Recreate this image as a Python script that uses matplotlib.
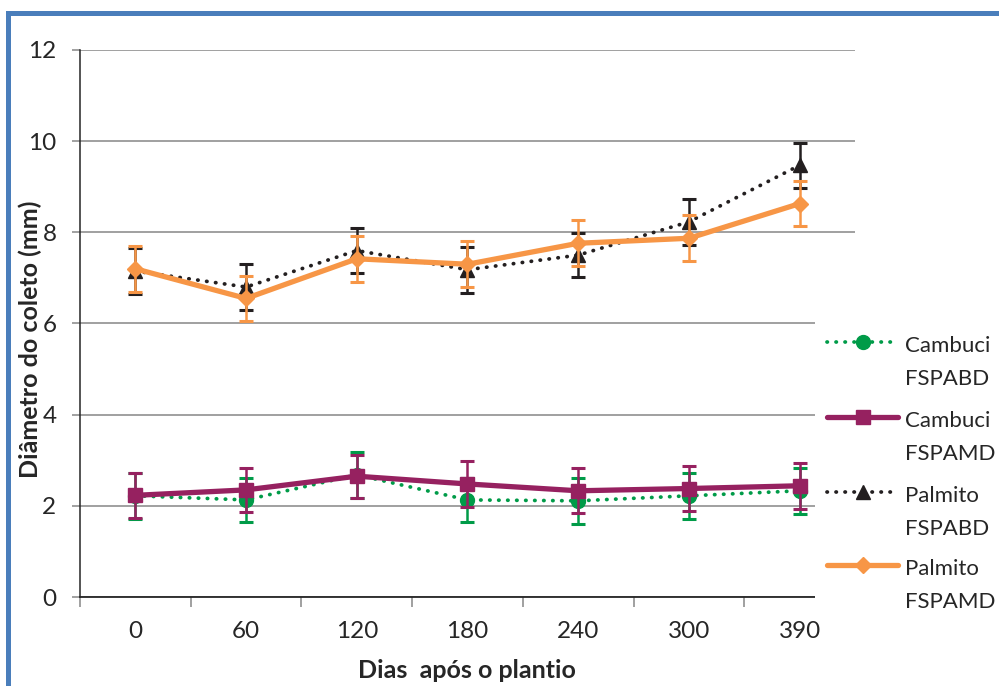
import matplotlib
matplotlib.use("Agg")
import matplotlib.pyplot as plt
from matplotlib.patches import Rectangle
from matplotlib.lines import Line2D
import numpy as np

plt.rcParams['font.family'] = ['Lato', 'DejaVu Sans']

days = ['0', '60', '120', '180', '240', '300', '390']

cambuci_abd = [2.22, 2.13, 2.68, 2.13, 2.11, 2.22, 2.33]
cambuci_abd_err = [0.50, 0.49, 0.50, 0.49, 0.50, 0.50, 0.50]
cambuci_amd = [2.23, 2.35, 2.65, 2.48, 2.33, 2.38, 2.44]
cambuci_amd_err = [0.50, 0.49, 0.47, 0.50, 0.49, 0.49, 0.50]
palmito_abd = [7.15, 6.80, 7.60, 7.18, 7.50, 8.23, 9.47]
palmito_abd_err = [0.50, 0.50, 0.50, 0.50, 0.49, 0.50, 0.50]
palmito_amd = [7.20, 6.55, 7.42, 7.30, 7.76, 7.87, 8.63]
palmito_amd_err = [0.50, 0.50, 0.50, 0.50, 0.50, 0.50, 0.49]

labels = ['Cambuci\nFSPABD', 'Cambuci\nFSPAMD', 'Palmito\nFSPABD', 'Palmito\nFSPAMD']

GREEN = '#009B48'
PURPLE = '#962160'
BLACK = '#231F20'
ORANGE = '#F79646'
GRID = '#868686'
TXT = '#262626'

W, H = 999, 686
fig = plt.figure(figsize=(W/100, H/100), dpi=100)
ax = fig.add_axes([80/W, 1-597/H, (855-80)/W, (597-50)/H])

x = np.arange(len(days))
dot = (0, (0.1, 2.3))

series = [
    (cambuci_abd, cambuci_abd_err, GREEN, dot, 2.7, 'o', 10),
    (cambuci_amd, cambuci_amd_err, PURPLE, '-', 3.8, 's', 10),
    (palmito_abd, palmito_abd_err, BLACK, dot, 2.7, '^', 10),
    (palmito_amd, palmito_amd_err, ORANGE, '-', 3.8, 'D', 8.5),
]

for i, (vals, errs, col, ls, lw, mk, ms) in enumerate(series):
    z = 3 + i
    ax.errorbar(x, vals, yerr=errs, fmt='none', ecolor=col, elinewidth=1.8,
                capsize=5, capthick=2.2, zorder=z)
    ax.plot(x, vals, color=col, linestyle=ls, linewidth=lw,
            dash_capstyle='round', solid_capstyle='butt',
            marker=mk, markersize=ms, markerfacecolor=col,
            markeredgecolor=col, zorder=z + 0.5)

ax.set_xlim(-0.5, len(days) - 0.5)
ax.set_ylim(0, 12)
ax.set_yticks([0, 2, 4, 6, 8, 10, 12])
ax.yaxis.grid(True, color=GRID, linewidth=1.1)
ax.set_axisbelow(True)

ax.set_xticks(x)
ax.set_xticklabels(days)
ax.set_xticks(np.arange(-0.5, len(days) - 0.5, 1.0), minor=True)
ax.tick_params(axis='x', which='major', length=0, labelsize=17.5, pad=17,
               labelcolor=TXT)
ax.tick_params(axis='x', which='minor', length=7, width=1.1, color=GRID)
ax.tick_params(axis='y', length=6, width=1.1, color=GRID, labelsize=17.5,
               pad=11, labelcolor=TXT)

for s in ['top', 'right']:
    ax.spines[s].set_visible(False)
ax.spines['left'].set_color(TXT)
ax.spines['left'].set_linewidth(1.1)
ax.spines['bottom'].set_color(TXT)
ax.spines['bottom'].set_linewidth(1.3)

ax.set_xlabel('Dias  após o plantio', fontsize=18, fontweight='bold',
              color=TXT)
ax.xaxis.set_label_coords((467-80)/775, -(670-597)/547)
ax.xaxis.label.set_va('center')
ax.set_ylabel('Diâmetro do coleto (mm)', fontsize=18, fontweight='bold',
              color=TXT)
ax.yaxis.set_label_coords((30-80)/775, (597-339)/547)
ax.yaxis.label.set_va('center')

# legend (drawn in figure pixel positions)
fig.add_artist(Rectangle((815/W, 1-615/H), (W-815)/W, (615-318)/H,
                         transform=fig.transFigure, facecolor='white',
                         edgecolor='none', zorder=5))
leg_y = [342, 417, 492, 565]
for (vals, errs, col, ls, lw, mk, ms), lab, yy in zip(series, labels, leg_y):
    yf = 1 - yy/H
    fig.add_artist(Line2D([827/W, 862.5/W, 898/W], [yf, yf, yf],
                          transform=fig.transFigure, color=col, linestyle=ls,
                          linewidth=lw, dash_capstyle='round',
                          solid_capstyle='round', marker=mk, markevery=[1],
                          markersize=ms, markerfacecolor=col,
                          markeredgecolor=col, zorder=6))
    l1, l2 = lab.split('\n')
    fig.text(905/W, 1-(yy+10)/H, l1, fontsize=16, color=TXT,
             va='baseline', ha='left', zorder=7)
    fig.text(905/W, 1-(yy+43)/H, l2, fontsize=16, color=TXT,
             va='baseline', ha='left', zorder=7)

fig.add_artist(Rectangle((7.5/W, -0.2), 1.2, 1.2 - 12.5/H,
                         transform=fig.transFigure, fill=False,
                         edgecolor='#4A7EBB', linewidth=3.6, zorder=30))

fig.savefig('out.png', dpi=100, facecolor='white')
